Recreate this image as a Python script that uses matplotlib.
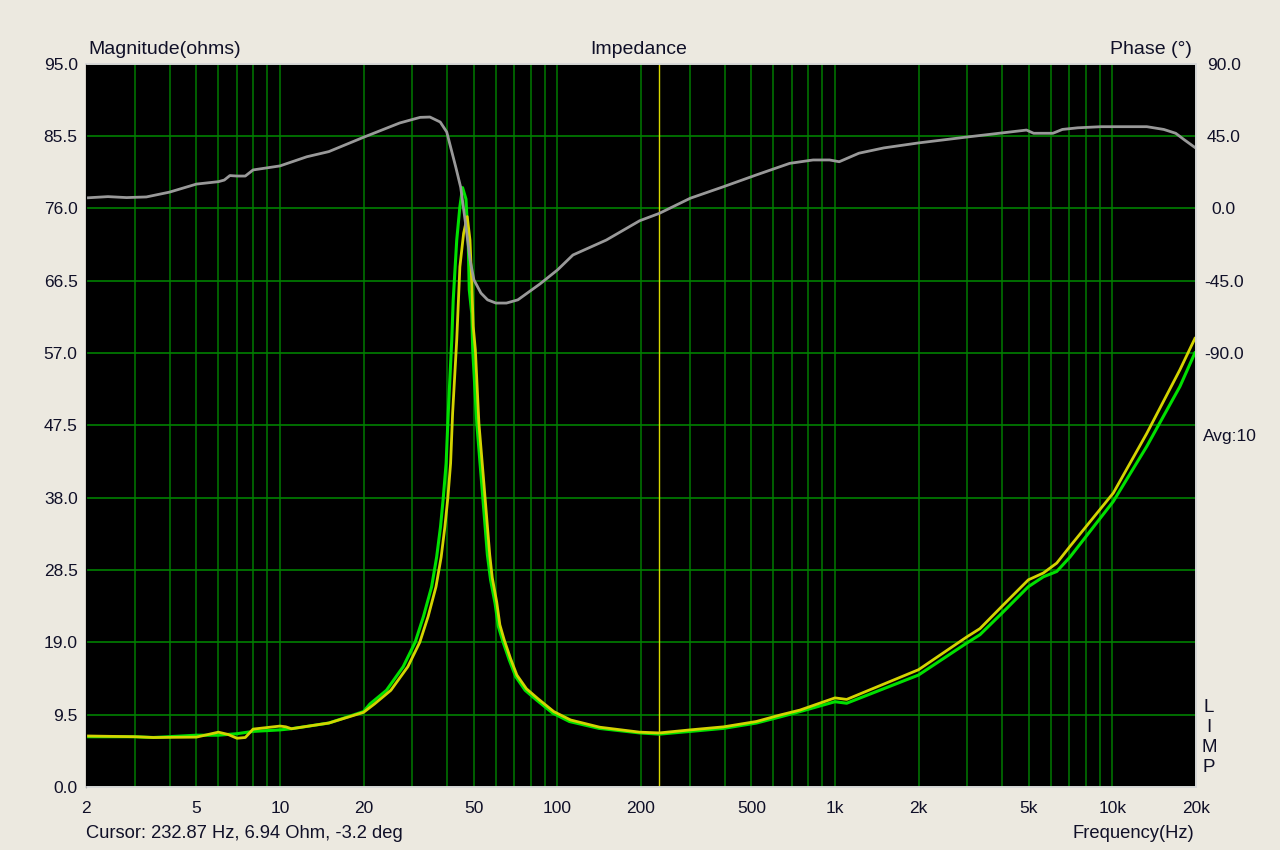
import numpy as np
import matplotlib
matplotlib.use("Agg")
import matplotlib.pyplot as plt

plt.rcParams['font.family'] = ['Liberation Sans', 'DejaVu Sans']

# impedance magnitude, green trace
freq_green = [2, 3, 3.5, 5, 6, 7, 8, 10, 11, 15, 20, 21.1, 24.2, 27.8, 30.7, 32.9, 35.2,
              36.7, 37.9, 38.8, 39.7, 40.4, 41.6, 42.1, 43.35, 44.5, 45.5, 46.8, 47.7,
              48.1, 49.1, 49.5, 51.2, 53.3, 55.9, 57.4, 59.6, 61.2, 63.6, 67.0, 70.7,
              76.5, 84.2, 96.2, 110.4, 141, 197.8, 232.9, 301, 397, 521, 634, 748, 1000,
              1102, 2000, 2984, 3331, 3990, 4975, 5636, 6298, 7031, 10070, 13280, 17510,
              19820]
mag_green = [6.6, 6.6, 6.5, 6.8, 6.8, 7.0, 7.3, 7.5, 7.65, 8.4, 9.9, 10.9, 12.7, 15.8,
             19.0, 22.4, 26.3, 30.2, 34.2, 38.1, 42.5, 49.1, 58.7, 63.9, 71.8, 76.2, 78.7,
             77.2, 71.4, 65.3, 62.2, 57.4, 47.8, 39.9, 30.5, 27.2, 24.1, 21.1, 19.1, 16.7,
             14.5, 12.7, 11.4, 9.7, 8.6, 7.7, 7.1, 6.94, 7.3, 7.7, 8.4, 9.2, 9.9, 11.2,
             11.0, 14.7, 18.9, 20.0, 22.8, 26.3, 27.6, 28.3, 30.2, 37.5, 44.7, 52.6, 57.0]

# impedance magnitude, yellow trace
freq_yellow = [2, 3, 3.5, 5, 6, 6.5, 7, 7.5, 8, 10, 10.5, 11, 15, 20, 21.9, 25.1, 28.9,
               31.9, 34.2, 36.5, 38.1, 39.3, 40.3, 41.2, 41.9, 43.35, 44.5, 45.9, 47.3,
               48.4, 49.1, 49.7, 50.6, 52.1, 54.3, 57.0, 58.2, 60.4, 62.0, 64.3, 67.7,
               71.4, 77.3, 85.0, 97, 111.5, 142, 197.8, 232.9, 301, 397, 521, 634, 748,
               1000, 1102, 2000, 2984, 3331, 3990, 4975, 5636, 6298, 7031, 10070, 13280,
               17510, 19820]
mag_yellow = [6.7, 6.6, 6.5, 6.55, 7.2, 6.9, 6.4, 6.5, 7.6, 8.0, 7.9, 7.65, 8.4, 9.8,
              10.9, 12.7, 15.8, 19.0, 22.4, 26.3, 30.2, 34.2, 38.1, 42.5, 49.1, 58.7,
              68.3, 72.7, 74.9, 71.8, 66.2, 60.5, 57.4, 47.8, 39.9, 30.5, 27.5, 24.3,
              21.3, 19.3, 16.9, 14.7, 12.9, 11.6, 9.9, 8.8, 7.85, 7.2, 7.1, 7.5, 7.9, 8.6,
              9.45, 10.1, 11.7, 11.5, 15.4, 19.7, 20.8, 23.7, 27.2, 28.1, 29.4, 31.6,
              38.6, 46.4, 54.8, 58.9]

# phase (deg), gray trace
freq_phase = [2, 2.4, 2.8, 3.3, 4, 5, 6, 6.3, 6.6, 7, 7.5, 8, 10, 12.5, 15, 20, 27, 32,
              34.7, 37.8, 39.9, 43, 44.8, 46.6, 48.4, 50, 53, 56, 60, 65.5, 72, 86.5, 100,
              113.7, 150, 197.8, 232.9, 301, 397, 521, 687, 834, 956, 1036, 1220, 1500,
              2000, 3000, 4900, 5200, 6100, 6600, 7500, 9100, 13300, 15300, 16900, 18200,
              20000]
phase = [6.4, 7.2, 6.6, 7.0, 10.0, 15.0, 16.5, 17.5, 20.3, 20.0, 20.0, 23.8, 26.3, 32.0,
         35.2, 44.1, 53.0, 56.5, 56.7, 53.6, 47.4, 25.6, 13.0, -9.0, -32.0, -44.6, -52.8,
         -57.0, -59.0, -59.0, -57.0, -47.1, -38.4, -29.1, -19.8, -7.8, -3.2, 6.2, 13.4,
         20.7, 27.9, 30.0, 30.0, 28.9, 34.2, 37.5, 40.6, 44.3, 48.6, 46.6, 46.6, 49.0,
         50.0, 50.7, 50.7, 49.0, 46.6, 42.4, 37.3]

cursor_hz = 232.87
x_ticks = [2, 5, 10, 20, 50, 100, 200, 500, 1000, 2000, 5000, 10000, 20000]
x_labels = ['2', '5', '10', '20', '50', '100', '200', '500', '1k', '2k', '5k', '10k', '20k']
mag_ticks = [0.0, 9.5, 19.0, 28.5, 38.0, 47.5, 57.0, 66.5, 76.0, 85.5, 95.0]
phase_ticks = [90.0, 45.0, 0.0, -45.0, -90.0]

bg = '#ECE9E0'
txt = '#101028'
grid_c = '#007000'

fig = plt.figure(figsize=(12.8, 8.5), dpi=100, facecolor=bg)
ax = fig.add_axes([86 / 1280, 1 - 787 / 850, 1110 / 1280, 723.5 / 850])
ax.set_facecolor('black')
ax.set_xscale('log')
ax.set_xlim(2, 20000)
ax.set_ylim(0, 95)

minor = [m * 10 ** e for e in range(0, 5) for m in range(1, 10)]
minor = [v for v in minor if 2 <= v <= 20000 and v not in x_ticks]
ax.set_xticks(x_ticks, x_labels)
ax.set_xticks(minor, [''] * len(minor), minor=True)
ax.set_yticks(mag_ticks, ['%.1f' % v for v in mag_ticks])
ax.grid(True, which='both', axis='x', color=grid_c, lw=1.2)
ax.grid(True, which='major', axis='y', color='#008000', lw=1.2)
ax.set_axisbelow(True)
ax.tick_params(axis='both', which='both', length=0, colors=txt, labelsize=12.5)
ax.tick_params(axis='x', pad=10)
ax.tick_params(axis='y', pad=6)

ax.axvline(cursor_hz, color='#D8D800', lw=1)
ax.plot(freq_green, mag_green, color='#00E000', lw=2.2)
ax.plot(freq_yellow, mag_yellow, color='#D4D400', lw=2.0)

ax2 = ax.twinx()
ax2.set_ylim(-360, 90)
ax2.plot(freq_phase, phase, color='#999999', lw=2.0)
ax2.set_yticks(phase_ticks, ['%.1f' % v for v in phase_ticks])
ax2.tick_params(axis='y', length=0, colors=txt, labelsize=12.5, pad=20)
for lab in ax2.get_yticklabels():
    lab.set_horizontalalignment('center')

for a in (ax, ax2):
    a.spines['left'].set_color('black')
    for s in ('top', 'right', 'bottom'):
        a.spines[s].set_color('#D8D8D8')
        a.spines[s].set_linewidth(1.2)

fig.text(88 / 1280, 1 - 49 / 850, 'Magnitude(ohms)', ha='left', va='center', fontsize=14, color=txt)
fig.text(639 / 1280, 1 - 49 / 850, 'Impedance', ha='center', va='center', fontsize=14, color=txt)
fig.text(1192 / 1280, 1 - 49 / 850, 'Phase (°)', ha='right', va='center', fontsize=14, color=txt)
fig.text(1203 / 1280, 1 - 436 / 850, 'Avg:10', ha='left', va='center', fontsize=12.5, color=txt)
for i, ch in enumerate('LIMP'):
    fig.text(1209 / 1280, 1 - (707 + 20.3 * i) / 850, ch, ha='center', va='center',
             fontsize=13.5, color=txt)
fig.text(86 / 1280, 1 - 833 / 850, 'Cursor: 232.87 Hz, 6.94 Ohm, -3.2 deg', ha='left',
         va='center', fontsize=13.2, color=txt)
fig.text(1194 / 1280, 1 - 833 / 850, 'Frequency(Hz)', ha='right', va='center', fontsize=13.2,
         color=txt)

fig.savefig('out.png', dpi=100, facecolor=bg)
